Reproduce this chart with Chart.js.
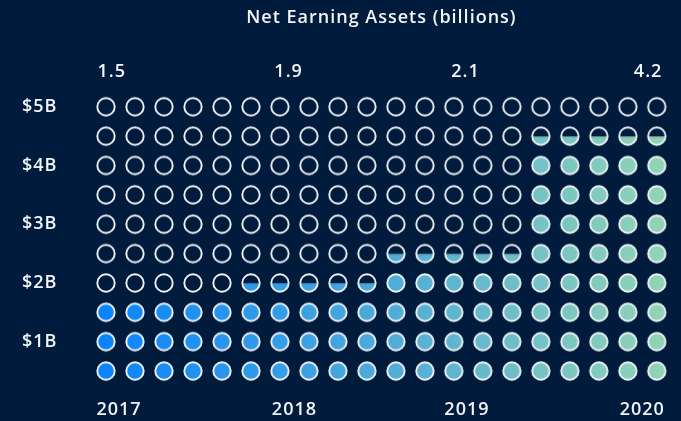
<!DOCTYPE html>
<html>
<head>
<meta charset="utf-8">
<script src="https://cdn.jsdelivr.net/npm/chart.js@4"></script>
<style>
  html, body { margin: 0; padding: 0; background: #011b3d; }
  #wrap { width: 681px; height: 421px; }
</style>
</head>
<body>
<div id="wrap"><canvas id="graph"></canvas></div>
<script>
const years = ['2017', '2018', '2019', '2020'];
const netAssets = ['1.5', '1.9', '2.1', '4.2'];
const filledBillions = [1.5, 1.75, 2.25, 4.25]; // fill level shown in each year's block
const yLabels = ['$1B', '$2B', '$3B', '$4B', '$5B'];
const billionsPerRow = 0.5;
const colsPerYear = 5;
const rowCount = 10;

// label positions in column units (space-between layout)
const bottomPos = [0.45, 6.5, 12.45, 18.5];
const topPos = [0.2, 6.3, 12.4, 18.7];

const colCount = years.length * colsPerYear;
const c0 = [8, 130, 255], c1 = [148, 213, 180];
const mix = (t) => {
    t = Math.max(0, Math.min(1, t));
    return c0.map((v, i) => Math.round(v + (c1[i] - v) * t));
};
const rgb = (a, k = 1) => `rgb(${a.map(v => Math.round(v * k)).join(',')})`;

const R = 8.7, SIZE = 24;
function makeDot(col, frac) {
    const cv = document.createElement('canvas');
    cv.width = SIZE; cv.height = SIZE;
    const ctx = cv.getContext('2d');
    const cx = SIZE / 2, cy = SIZE / 2;
    if (frac > 0) {
        const unit = R / 29.1;
        const g = ctx.createLinearGradient(cx - R, 0, cx + R, 0);
        const tl = (col - unit + 0.5) / colCount, tr = (col + unit + 0.5) / colCount;
        g.addColorStop(0, rgb(mix(tl)));
        g.addColorStop(1, rgb(mix(tr)));
        ctx.save();
        ctx.beginPath();
        ctx.arc(cx, cy, R, 0, Math.PI * 2);
        ctx.clip();
        ctx.fillStyle = g;
        const top = cy + R - frac * 2 * R;
        ctx.fillRect(0, top, SIZE, SIZE);
        if (frac < 1) {
            ctx.fillStyle = rgb(mix((col + 0.5) / colCount), 0.78);
            ctx.fillRect(0, top, SIZE, 1.2);
        }
        ctx.restore();
    }
    ctx.beginPath();
    ctx.arc(cx, cy, R, 0, Math.PI * 2);
    ctx.strokeStyle = '#eef2f5';
    ctx.lineWidth = 1.9;
    ctx.stroke();
    return cv;
}

const points = [];
const styles = [];
for (let c = 0; c < colCount; c++) {
    const rows = filledBillions[Math.floor(c / colsPerYear)] / billionsPerRow;
    for (let r = 0; r < rowCount; r++) {
        const frac = Math.max(0, Math.min(1, rows - r));
        points.push({ x: c, y: r });
        styles.push(makeDot(c, frac));
    }
}

const font = { family: 'Open Sans', size: 18, weight: '600' };

// wider text, closer to the original typeface
const spacing = {
    id: 'spacing',
    beforeDraw: (chart) => { chart.ctx.letterSpacing = '1px'; }
};

new Chart(document.getElementById('graph'), {
    type: 'scatter',
    data: {
        datasets: [{
            data: points,
            pointStyle: (ctx) => styles[ctx.dataIndex],
            pointRadius: R,
            pointHoverRadius: R
        }]
    },
    plugins: [spacing],
    options: {
        responsive: true,
        maintainAspectRatio: false,
        animation: false,
        events: [],
        layout: { padding: { left: 22, right: 7.5, top: 0, bottom: 0 } },
        plugins: {
            legend: { display: false },
            tooltip: { enabled: false },
            title: {
                display: true,
                text: 'Net Earning Assets (billions)',
                color: '#f2f4f7',
                font: font,
                fullSize: false,
                padding: { top: 7, bottom: 0 }
            }
        },
        scales: {
            x: {
                type: 'linear',
                position: 'bottom',
                min: -0.5, max: colCount - 0.5,
                grid: { display: false, drawTicks: false },
                border: { display: false },
                afterBuildTicks: (s) => { s.ticks = bottomPos.map(v => ({ value: v })); },
                afterFit: (s) => { s.height = 35.3; },
                ticks: {
                    color: '#f2f4f7', font: font, padding: 13, maxRotation: 0, autoSkip: false,
                    callback: (v, i) => years[i]
                }
            },
            x2: {
                type: 'linear',
                position: 'top',
                min: -0.5, max: colCount - 0.5,
                grid: { display: false, drawTicks: false },
                border: { display: false },
                afterBuildTicks: (s) => { s.ticks = topPos.map(v => ({ value: v })); },
                afterFit: (s) => { s.height = 63.5; },
                ticks: {
                    color: '#f2f4f7', font: font, padding: 9, maxRotation: 0, autoSkip: false,
                    callback: (v, i) => netAssets[i]
                }
            },
            y: {
                type: 'linear',
                min: -0.5, max: rowCount - 0.5,
                grid: { display: false, drawTicks: false },
                border: { display: false },
                afterBuildTicks: (s) => { s.ticks = yLabels.map((_, i) => ({ value: i * 2 + 1 })); },
                afterFit: (s) => { s.width = 69.5; },
                ticks: {
                    color: '#f2f4f7', font: font, crossAlign: 'far', padding: 0,
                    callback: (v, i) => yLabels[i]
                }
            }
        }
    }
});
</script>
</body>
</html>
